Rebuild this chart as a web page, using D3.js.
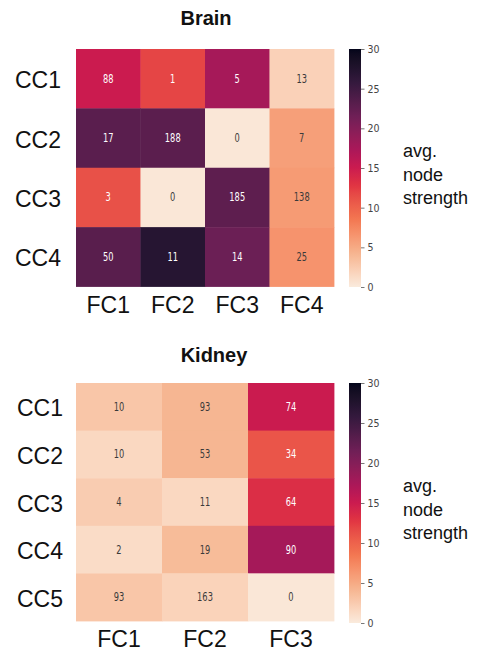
<!DOCTYPE html>
<html><head><meta charset="utf-8">
<script src="https://cdn.jsdelivr.net/npm/d3@7"></script>
<style>body{margin:0;background:#fff}</style>
</head><body><svg id="c" width="480" height="651"></svg>
<script>
const brainRows=["CC1","CC2","CC3","CC4"];
const brainCols=["FC1","FC2","FC3","FC4"];
const brainCounts=[[88,1,5,13],[17,188,0,7],[3,0,185,138],[50,11,14,25]];
const brainStrength=[[15.0,11.9,17.6,2.0],[23.0,22.9,0.3,5.8],[11.2,0.3,22.7,6.1],[23.1,27.1,21.8,6.6]];
const kidneyRows=["CC1","CC2","CC3","CC4","CC5"];
const kidneyCols=["FC1","FC2","FC3"];
const kidneyCounts=[[10,93,74],[10,53,34],[4,11,64],[2,19,90],[93,163,0]];
const kidneyStrength=[[2.9,4.1,15.1],[1.5,4.1,10.9],[2.4,1.5,13.4],[1.2,3.7,17.7],[2.9,1.9,0.3]];
const colorTicks=[0,5,10,15,20,25,30];
const colorDomain=[0,30];
const rocketPositions=[0,1/7,2/7,3/7,0.5,4/7,5/7,6/7,1];
const rocketAnchors=["#03051a","#35193e","#701f57","#ad1759","#cb1b4f","#e13342","#f37651","#f6b48f","#faebdd"];
const legendLines=["avg.","node","strength"];

const svg=d3.select("#c");
svg.append("rect").attr("width",480).attr("height",651).attr("fill","#fff");
const rocket=d3.scaleLinear().domain(rocketPositions).range(rocketAnchors).interpolate(d3.interpolateLab).clamp(true);
const colorScale=d3.scaleSequential(t=>rocket(1-t)).domain(colorDomain);

function lum(c){
  const r=d3.rgb(c);
  const f=v=>{v/=255;return v<=0.03928?v/12.92:Math.pow((v+0.055)/1.055,2.4);};
  return 0.2126*f(r.r)+0.7152*f(r.g)+0.0722*f(r.b);
}

const defs=svg.append("defs");
const grad=defs.append("linearGradient").attr("id","cbgrad").attr("x1",0).attr("x2",0).attr("y1",1).attr("y2",0);
d3.range(0,1.0001,0.02).forEach(t=>{
  grad.append("stop").attr("offset",t).attr("stop-color",colorScale(colorDomain[0]+t*(colorDomain[1]-colorDomain[0])));
});

function drawPanel(o){
  const {title,titleX,titleY,rows,cols,counts,strength,x0,x1,y0,y1,rowLabelX,cbTop,cbBottom}=o;
  svg.append("text").attr("x",titleX).attr("y",titleY).attr("text-anchor","middle")
    .attr("font-family","Liberation Sans, Arial, sans-serif").attr("font-weight","bold")
    .attr("font-size",20).attr("fill","#111").text(title);
  const x=d3.scaleBand().domain(cols).range([x0,x1]).padding(0);
  const y=d3.scaleBand().domain(rows).range([y0,y1]).padding(0);
  const cells=[];
  rows.forEach((r,i)=>cols.forEach((c,j)=>cells.push({r,c,n:counts[i][j],v:strength[i][j]})));
  const g=svg.append("g");
  g.selectAll("rect").data(cells).join("rect")
    .attr("x",d=>x(d.c)).attr("y",d=>y(d.r))
    .attr("width",x.bandwidth()+0.4).attr("height",y.bandwidth()+0.4)
    .attr("fill",d=>colorScale(d.v));
  g.selectAll("text").data(cells).join("text")
    .attr("transform",d=>`translate(${x(d.c)+x.bandwidth()/2},${y(d.r)+y.bandwidth()/2+4}) scale(0.8,1)`)
    .attr("text-anchor","middle")
    .attr("font-family","DejaVu Sans Condensed, DejaVu Sans, sans-serif")
    .attr("font-size",11.5)
    .attr("fill",d=>lum(colorScale(d.v))>0.408?"#3a3a3a":"#fff")
    .text(d=>d.n);
  const ya=svg.append("g").attr("transform",`translate(${x0},0)`)
    .call(d3.axisLeft(y).tickSize(0).tickPadding(x0-rowLabelX));
  ya.select(".domain").remove();
  ya.selectAll("text").attr("font-family","Liberation Sans, Arial, sans-serif")
    .attr("font-size",23).attr("fill","#111").attr("dy","0.42em");
  const xa=svg.append("g").attr("transform",`translate(0,${y1})`)
    .call(d3.axisBottom(x).tickSize(0).tickPadding(10));
  xa.select(".domain").remove();
  xa.selectAll("text").attr("font-family","Liberation Sans, Arial, sans-serif")
    .attr("font-size",23).attr("fill","#111").attr("dy","0.71em");
  const cbX=349,cbW=12;
  svg.append("rect").attr("x",cbX).attr("y",cbTop).attr("width",cbW).attr("height",cbBottom-cbTop)
    .attr("fill","url(#cbgrad)");
  const cs=d3.scaleLinear().domain(colorDomain).range([cbBottom,cbTop]);
  const ca=svg.append("g").attr("transform",`translate(${cbX+cbW},0)`)
    .call(d3.axisRight(cs).tickValues(colorTicks).tickSize(3.5).tickPadding(3));
  ca.select(".domain").remove();
  ca.selectAll("line").attr("stroke","#555").attr("stroke-width",0.8);
  ca.selectAll("text").attr("font-family","DejaVu Sans Condensed, DejaVu Sans, sans-serif")
    .attr("font-size",10.5).attr("fill","#444");
  const mid=(cbTop+cbBottom)/2;
  legendLines.forEach((l,i)=>{
    svg.append("text").attr("x",403).attr("y",mid-11+i*23.7)
      .attr("font-family","Liberation Sans, Arial, sans-serif").attr("font-size",18)
      .attr("fill","#111").text(l);
  });
}

drawPanel({title:"Brain",titleX:206,titleY:25,rows:brainRows,cols:brainCols,counts:brainCounts,
  strength:brainStrength,x0:76,x1:334,y0:49,y1:286.5,rowLabelX:61,cbTop:49,cbBottom:287});
drawPanel({title:"Kidney",titleX:214,titleY:362,rows:kidneyRows,cols:kidneyCols,counts:kidneyCounts,
  strength:kidneyStrength,x0:76,x1:334,y0:383,y1:621,rowLabelX:63,cbTop:383,cbBottom:623});
</script></body></html>
